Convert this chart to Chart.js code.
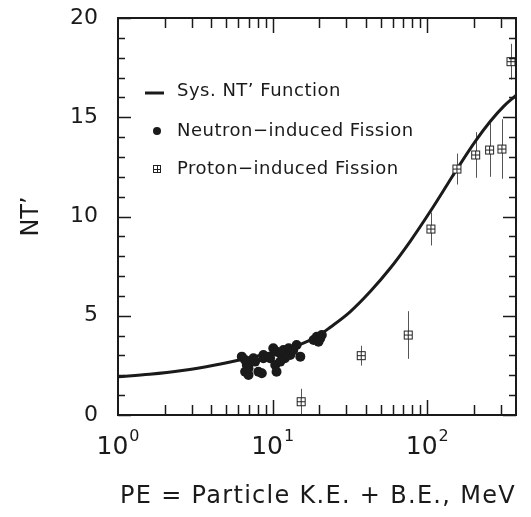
<!DOCTYPE html>
<html>
<head>
<meta charset="utf-8">
<script src="https://cdn.jsdelivr.net/npm/chart.js@4.4.1/dist/chart.umd.min.js"></script>
<style>
  html, body { margin: 0; padding: 0; background: #fff; }
  #wrap { width: 531px; height: 517px; }
</style>
</head>
<body>
<div id="wrap"><canvas id="chart" width="531" height="517"></canvas></div>
<script>
// Sys. NT' function
const curveX = [1, 1.6, 2.6, 4.25, 6.3, 10, 15, 20, 23.6, 31.7, 42.8, 57.6, 77.6, 104.5, 137, 156, 205, 256, 312, 375];
const curveY = [1.93, 2.05, 2.24, 2.52, 2.8, 3.15, 3.55, 4.02, 4.42, 5.2, 6.22, 7.39, 8.75, 10.25, 11.7, 12.4, 13.8, 14.8, 15.55, 16.1];

// neutron-induced fission points
const neutronX = [6.32, 6.64, 6.81, 6.64, 6.98, 7.51, 7.7, 8.09, 8.51, 8.72, 8.72, 6.98,
  9.63, 10.1, 10.6, 10.4, 10.6, 11.2, 11.75, 12.0, 12.7, 13.0, 13.6, 14.3, 15.1, 11.2,
  18.4, 19.3, 20.3, 20.8, 19.8];
const neutronY = [2.94, 2.77, 2.52, 2.18, 2.02, 2.86, 2.69, 2.18, 2.1, 3.02, 2.86, 2.35,
  2.86, 3.36, 3.19, 2.52, 2.18, 3.11, 3.27, 2.86, 3.36, 3.02, 3.27, 3.53, 2.94, 2.69,
  3.78, 3.94, 3.86, 4.03, 3.69];

// proton-induced fission points with error bars
const protonX = [15.3, 37.4, 75.3, 105.6, 155.6, 205.6, 253, 304, 348];
const protonY = [0.67, 2.99, 4.03, 9.37, 12.39, 13.1, 13.35, 13.4, 17.8];
const protonErr = [0.65, 0.5, 1.2, 0.83, 0.78, 1.15, 1.35, 1.5, 0.9];

const xMin = 1;
const xMax = 375;
const xDecades = [1, 10, 100];
const yMin = 0;
const yMax = 20;
const yStep = 5;
const xTitle = 'PE = Particle K.E. + B.E., MeV';
const yTitle = 'NT\u2019';

const FONT = "'DejaVu Sans', sans-serif";
const INK = '#1a1a1a';

function crossBox(size) {
  const c = document.createElement('canvas');
  c.width = size + 2;
  c.height = size + 2;
  const g = c.getContext('2d');
  g.fillStyle = '#fff';
  g.fillRect(1, 1, size, size);
  g.strokeStyle = '#222';
  g.lineWidth = 1;
  g.strokeRect(1.5, 1.5, size - 1, size - 1);
  const m = Math.floor(size / 2) + 0.5 + 1;
  g.beginPath();
  g.moveTo(1.5, m); g.lineTo(size + 0.5, m);
  g.moveTo(m, 1.5); g.lineTo(m, size + 0.5);
  g.stroke();
  return c;
}
const protonMarker = crossBox(9);
const legendMarker = crossBox(8);

function line(ctx, x1, y1, x2, y2) {
  ctx.beginPath();
  ctx.moveTo(x1, y1);
  ctx.lineTo(x2, y2);
  ctx.stroke();
}

const errorBars = {
  id: 'errorBars',
  beforeDatasetsDraw(chart) {
    const { ctx, scales: { x, y } } = chart;
    ctx.save();
    ctx.strokeStyle = '#555';
    ctx.lineWidth = 1;
    protonX.forEach((v, i) => {
      const px = Math.round(x.getPixelForValue(v)) + 0.5;
      line(ctx, px, y.getPixelForValue(protonY[i] - protonErr[i]), px, y.getPixelForValue(protonY[i] + protonErr[i]));
    });
    ctx.restore();
  }
};

const frame = {
  id: 'frame',
  afterDatasetsDraw(chart) {
    const { ctx, chartArea: a, scales: { x, y } } = chart;
    ctx.save();
    ctx.strokeStyle = INK;
    ctx.lineWidth = 1.5;
    for (let v = yMin; v <= yMax; v += 1) {
      const py = Math.round(y.getPixelForValue(v)) + 0.5;
      const len = v % yStep === 0 ? 13 : 7;
      line(ctx, a.left, py, a.left + len, py);
      line(ctx, a.right, py, a.right - len, py);
    }
    xDecades.forEach((d) => {
      for (let m = 1; m <= 9; m++) {
        const v = d * m;
        if (v <= xMin || v >= xMax) continue;
        const px = Math.round(x.getPixelForValue(v)) + 0.5;
        const len = m === 1 ? 15 : 10;
        line(ctx, px, a.bottom, px, a.bottom - len);
        line(ctx, px, a.top, px, a.top + len);
      }
    });
    ctx.lineWidth = 2;
    ctx.strokeRect(a.left, a.top, a.right - a.left, a.bottom - a.top);

    // decade labels with superscript exponent
    ctx.fillStyle = INK;
    ctx.textBaseline = 'alphabetic';
    ctx.textAlign = 'left';
    xDecades.forEach((d) => {
      const px = x.getPixelForValue(d);
      const exp = String(Math.round(Math.log10(d)));
      ctx.font = `25px ${FONT}`;
      const wBase = ctx.measureText('10').width;
      ctx.font = `16px ${FONT}`;
      const wExp = ctx.measureText(exp).width;
      const left = px - (wBase + wExp + 1) / 2;
      ctx.font = `25px ${FONT}`;
      ctx.fillText('10', left, a.bottom + 39);
      ctx.font = `16px ${FONT}`;
      ctx.fillText(exp, left + wBase + 1, a.bottom + 26);
    });

    // x axis title, slightly spaced like the wide original face
    ctx.font = `24px ${FONT}`;
    ctx.letterSpacing = '1.3px';
    ctx.textAlign = 'center';
    ctx.textBaseline = 'middle';
    ctx.fillText(xTitle, (a.left + a.right) / 2 + 1, 497);
    ctx.restore();
  }
};

const insideLegend = {
  id: 'insideLegend',
  afterDraw(chart) {
    const { ctx, chartArea: a, data } = chart;
    const sx = a.left + 39;
    const tx = a.left + 59;
    const rows = [a.top + 73, a.top + 113, a.top + 151];
    ctx.save();
    ctx.font = `18px ${FONT}`;
    ctx.letterSpacing = '0.5px';
    ctx.fillStyle = INK;
    ctx.textBaseline = 'middle';
    ctx.textAlign = 'left';
    data.datasets.forEach((ds, i) => {
      const ry = rows[i];
      if (i === 0) {
        ctx.strokeStyle = INK;
        ctx.lineWidth = 3;
        line(ctx, sx - 12, ry + 2, sx + 7, ry + 2);
      } else if (i === 1) {
        ctx.beginPath();
        ctx.arc(sx, ry, 4, 0, Math.PI * 2);
        ctx.fill();
      } else {
        ctx.drawImage(legendMarker, Math.round(sx - legendMarker.width / 2), Math.round(ry - legendMarker.height / 2));
      }
      ctx.fillText(ds.label, tx, ry);
    });
    ctx.restore();
  }
};

new Chart(document.getElementById('chart'), {
  type: 'scatter',
  data: {
    datasets: [
      {
        label: "Sys. NT\u2019 Function",
        data: curveX.map((v, i) => ({ x: v, y: curveY[i] })),
        showLine: true,
        borderColor: INK,
        borderWidth: 3,
        pointRadius: 0,
        cubicInterpolationMode: 'monotone',
        order: 2
      },
      {
        label: 'Neutron\u2212induced Fission',
        data: neutronX.map((v, i) => ({ x: v, y: neutronY[i] })),
        pointRadius: 5,
        pointBackgroundColor: INK,
        pointBorderColor: INK,
        borderWidth: 0,
        order: 1
      },
      {
        label: 'Proton\u2212induced Fission',
        data: protonX.map((v, i) => ({ x: v, y: protonY[i] })),
        pointStyle: protonMarker,
        order: 0
      }
    ]
  },
  options: {
    responsive: false,
    animation: false,
    layout: { padding: { top: 18, right: 15, left: 0, bottom: 0 } },
    plugins: { legend: { display: false }, tooltip: { enabled: false } },
    scales: {
      x: {
        type: 'logarithmic',
        min: xMin,
        max: xMax,
        grid: { display: false },
        border: { display: false },
        ticks: { display: false },
        title: { display: false },
        afterFit(scale) {
          scale.height = 102;
          scale.paddingLeft = 0;
          scale.paddingRight = 0;
        }
      },
      y: {
        min: yMin,
        max: yMax,
        grid: { display: false, drawTicks: false },
        border: { display: false },
        ticks: {
          stepSize: yStep,
          color: INK,
          padding: 20,
          font: { family: FONT, size: 22 }
        },
        title: {
          display: true,
          text: yTitle,
          color: INK,
          font: { family: FONT, size: 24 },
          padding: { top: 17, bottom: 0 }
        },
        afterFit(scale) {
          scale.width = 118;
          scale.paddingTop = 0;
          scale.paddingBottom = 0;
        }
      }
    }
  },
  plugins: [errorBars, frame, insideLegend]
});
</script>
</body>
</html>
